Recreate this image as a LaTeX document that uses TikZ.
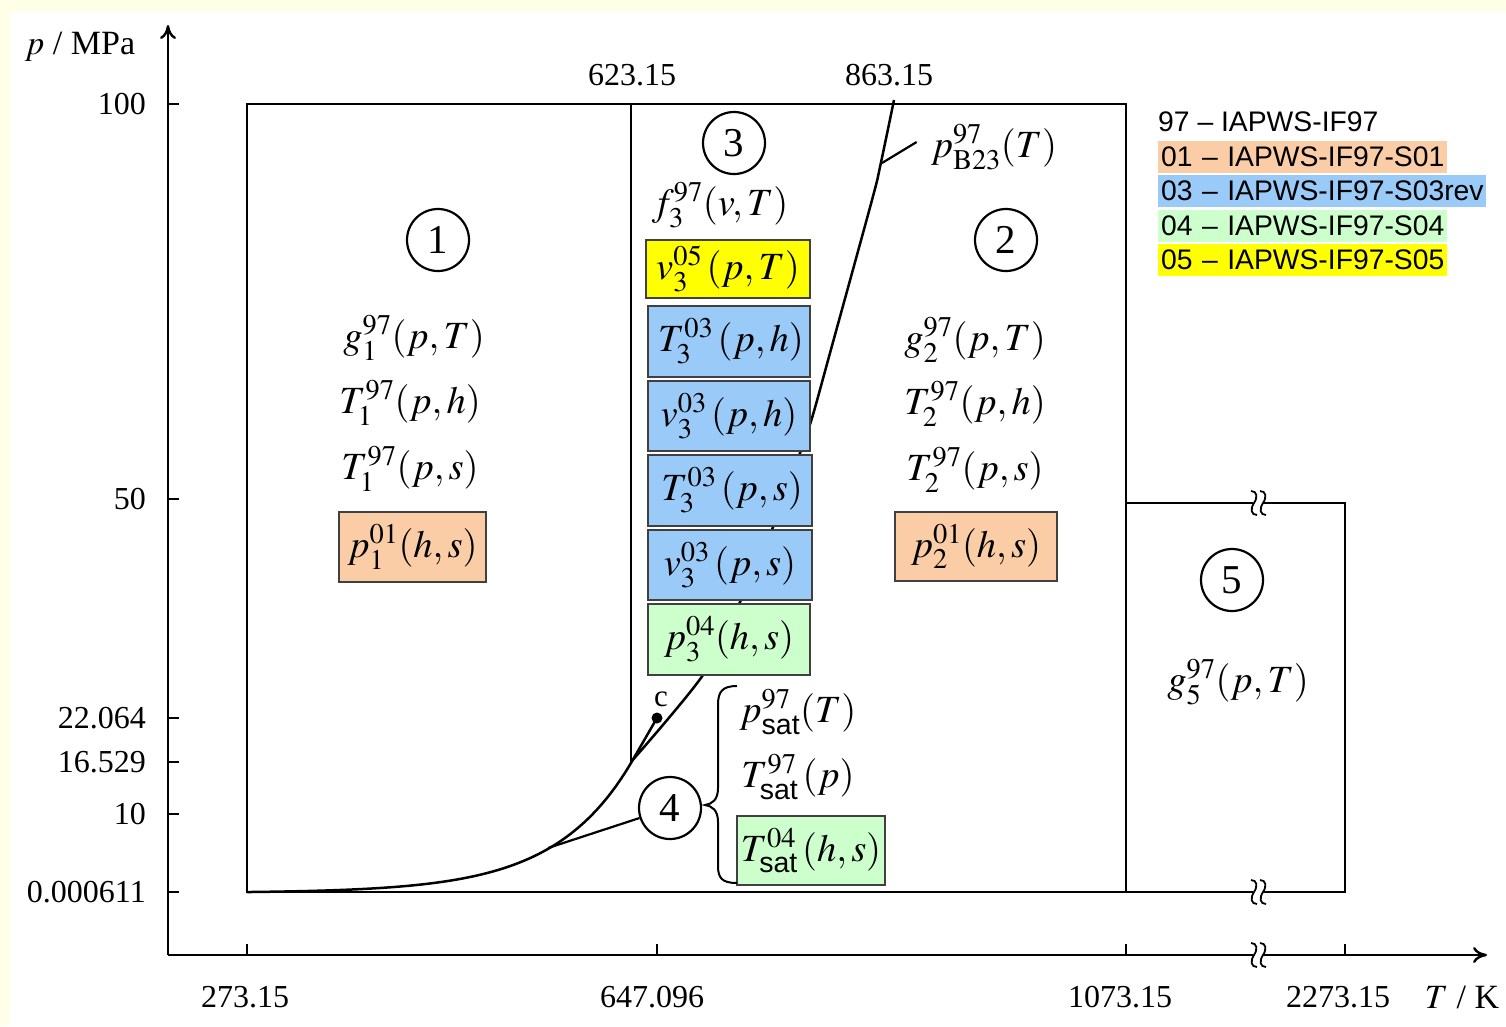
\documentclass[tikz,border=0pt]{standalone}
\usepackage{amsmath}
\usepackage{mathptmx}
\usepackage[no-math]{fontspec}
\setmainfont{Liberation Serif}
\newfontfamily\sansfam{Liberation Sans}
\usetikzlibrary{arrows.meta}

\definecolor{peach}{RGB}{251,205,167}
\definecolor{skyblue}{RGB}{153,202,248}
\definecolor{mint}{RGB}{204,255,204}
\definecolor{lemon}{RGB}{255,255,0}
\definecolor{cream}{RGB}{255,255,232}

\newcommand\satsub{\text{\sansfam sat}}

\begin{document}
\begin{tikzpicture}[x=1pt,y=-1pt,
  axis/.style={line width=2.4pt},
  frame/.style={line width=2.6pt},
  curve/.style={line width=2.5pt},
  fn/.style={font=\fontsize{38.5}{42}\selectfont, inner sep=0pt},
  fbox/.style={fn, draw=black!75, line width=1.5pt},
  region/.style={circle, draw, line width=2.2pt, minimum size=62pt, inner sep=0pt,
    font=\fontsize{41}{44}\selectfont},
  ticklab/.style={font=\fontsize{32}{36}\selectfont, inner sep=0pt},
  legend/.style={font=\sansfam\fontsize{28.3}{32}\selectfont, anchor=west,
    inner xsep=3pt, inner ysep=0pt, align=left, minimum height=32pt},
  brk/.pic={
    \fill[white] (-4,-5) rectangle (5,5);
    \draw[line width=1.8pt] (-7,-12) .. controls (-1,-12) and (0,-6) .. (-4,0)
      .. controls (-8,6) and (-7,12) .. (-1,12);
    \draw[line width=1.8pt] (2,-12) .. controls (8,-12) and (9,-6) .. (5,0)
      .. controls (1,6) and (2,12) .. (8,12);
  }
]
% page background
\useasboundingbox (0,0) rectangle (1506,1026);
\fill[cream] (0,0) rectangle (1506,1026);
\fill[white] (10,12) rectangle (1506,1026);

% axes
\draw[axis, -{To[length=14pt,width=16pt]}] (168,955) -- (168,25);
\draw[axis] (168,955) -- (1253,955);
\draw[axis, -{To[length=14pt,width=16pt]}] (1263,955) -- (1487,955);
\pic at (1258,955) {brk};

% pressure ticks and labels
\foreach \yy/\lab in {104/100, 499/50, 718/22.064, 762/16.529, 814/10, 892/0.000611}{
  \draw[axis] (168,\yy) -- (179,\yy);
  \node[ticklab, anchor=east] at (146,\yy) {\lab};
}
\node[ticklab, font=\fontsize{34}{36}\selectfont] (plab) at (80,47) {$p$ / MPa};

% temperature ticks and labels
\foreach \xx in {247, 657, 1126, 1345}{
  \draw[axis] (\xx,955) -- (\xx,944);
}
\node[ticklab] (t1) at (245,997) {273.15};
\node[ticklab] (t2) at (652,997) {647.096};
\node[ticklab] (t3) at (1120,997) {1073.15};
\node[ticklab] (t4) at (1338,997) {2273.15};
\node[ticklab, font=\fontsize{34}{36}\selectfont] (tlab) at (1462,997) {$T$ / K};
\node[ticklab] (t623) at (632,75) {623.15};
\node[ticklab] (t863) at (889,75) {863.15};

% region frames
\draw[frame] (247,104) rectangle (1126,892);
\draw[frame] (1126,503) -- (1253,503);
\draw[frame] (1263,503) -- (1345,503) -- (1345,892) -- (1263,892);
\draw[frame] (1126,892) -- (1253,892);
\pic at (1258,503) {brk};
\pic at (1258,892) {brk};
\draw[frame] (631,104) -- (631,762);

% saturation line up to the critical point
\draw[curve, line join=round] plot[domain=247:631, samples=80]
  (\x, {892.9-44*exp(0.01305*(\x-548))}) -- (657,718);
% boundary between regions 2 and 3
\draw[curve] plot[smooth, tension=0.5] coordinates
  {(631,762) (703,675) (740,602) (773,527) (800,453) (812,418) (830,353)
   (872,200) (880,167) (894,100)};

% critical point
\fill (657,718) circle (5.5pt);
\node[ticklab, font=\fontsize{31}{32}\selectfont] (cp) at (661,699) {c};

% region numbers
\node[region] (c1) at (438,240) {1};
\node[region] (c3) at (734,143) {3};
\node[region] (c2) at (1006,240) {2};
\node[region] (c5) at (1232,580) {5};
\node[region] (c4) at (670,808) {4};
\coordinate (s4) at (548,848);
\draw[curve, line width=2.2pt] (c4) -- (s4);

% B23 label and leader
\node[fn] (lb23) at (994,147) {$p_{\mathrm{B23}}^{97}(T)$};
\coordinate (b23) at (882,163);
\draw[line width=2.2pt] (b23) -- ([xshift=-14pt, yshift=5pt]lb23.west);

% region 1
\node[fn] (g1) at (414,338) {$g_1^{97}(p,T)$};
\node[fn] (T1h) at (410,403) {$T_1^{97}(p,h)$};
\node[fn] (T1s) at (410,469) {$T_1^{97}(p,s)$};
\node[fbox, fill=peach, minimum width=147pt, minimum height=70pt] (p1) at (412.5,547) {$p_1^{01}(h,s)$};

% region 2
\node[fn] (g2) at (975,340) {$g_2^{97}(p,T)$};
\node[fn] (T2h) at (975,404) {$T_2^{97}(p,h)$};
\node[fn] (T2s) at (975,470) {$T_2^{97}(p,s)$};
\node[fbox, fill=peach, minimum width=162pt, minimum height=69pt] (p2) at (976,546.5) {$p_2^{01}(h,s)$};

% region 3
\node[fn] (f3) at (720,205) {$f_3^{97}(v,T)$};
\node[fbox, fill=lemon, minimum width=164pt, minimum height=58pt] (v3pT) at (728,269) {$v_3^{05}\,(p,T)$};
\node[fbox, fill=skyblue, minimum width=162pt, minimum height=71pt] (T3ph) at (729,341.5) {\hspace{4pt}$T_3^{03}\,(p,h)$};
\node[fbox, fill=skyblue, minimum width=162pt, minimum height=70pt] (v3ph) at (729,416) {$v_3^{03}\,(p,h)$};
\node[fbox, fill=skyblue, minimum width=164pt, minimum height=71pt] (T3ps) at (730,490.5) {\hspace{4pt}$T_3^{03}\,(p,s)$};
\node[fbox, fill=skyblue, minimum width=164pt, minimum height=70pt] (v3ps) at (730,565) {$v_3^{03}\,(p,s)$};
\node[fbox, fill=mint, minimum width=162pt, minimum height=71pt] (p3) at (729,639.5) {$p_3^{04}(h,s)$};

% region 4
\node[fn] (psat) at (798,712) {$p_{\satsub}^{97}(T)$};
\node[fn] (Tsat) at (798,777) {$T_{\satsub}^{97}\,(p)$};
\node[fbox, fill=mint, minimum width=148pt, minimum height=69pt] (Tsat4) at (811,850.5) {$T_{\satsub}^{04}\,(h,s)$};
\draw[line width=2pt] (737,686) .. controls (722,686) and (718,692) .. (718,705)
  -- (718,788) .. controls (718,800) and (712,804) .. (705,805)
  .. controls (712,806) and (718,810) .. (718,822)
  -- (718,866) .. controls (718,878) and (722,883) .. (737,883);

% region 5
\node[fn] (g5) at (1238,682) {$g_5^{97}(p,T)$};

% legend
\node[legend, minimum height=0pt] (l97) at (1155,122) {\mbox{97 – IAPWS-IF97}};
\node[legend, fill=peach, text width=283pt] (l01) at (1158,157) {\mbox{01 – IAPWS-IF97-S01}};
\node[legend, fill=skyblue, text width=322pt] (l03) at (1158,191) {\mbox{03 – IAPWS-IF97-S03rev}};
\node[legend, fill=mint, text width=283pt] (l04) at (1158,226) {\mbox{04 – IAPWS-IF97-S04}};
\node[legend, fill=lemon, text width=283pt] (l05) at (1158,259.5) {\mbox{05 – IAPWS-IF97-S05}};
\end{tikzpicture}
\end{document}
